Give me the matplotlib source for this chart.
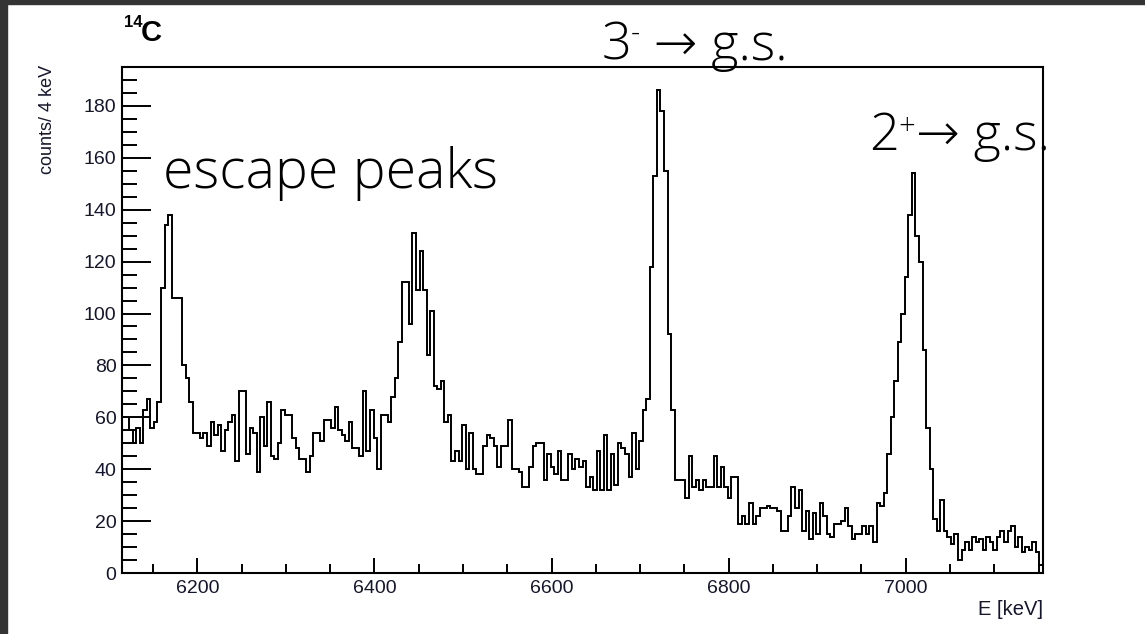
import numpy as np
import matplotlib
matplotlib.use("Agg")
import matplotlib.pyplot as plt
from matplotlib.patches import Rectangle
from matplotlib.ticker import MultipleLocator

# ---- 14C gamma spectrum, 4 keV bins starting at 6115 keV ----
bin_start = 6115
bin_width = 4

counts_low = [60, 60, 55, 50, 56, 50, 63, 67, 56, 58, 66,
              110, 134, 138, 106, 106, 106,
              80, 75, 66, 54, 54, 52, 54, 49, 58, 53, 57, 47, 55,
              58, 61, 43, 70, 70, 46, 56, 54, 39, 60, 49,
              66, 45, 44, 50, 63, 61, 61, 52, 48, 44, 44, 39,
              45, 54, 54, 51, 59, 59, 56, 64,
              55, 53, 51, 58, 48, 48, 45, 70, 47, 63, 52, 40]
counts_escape2 = [61, 61, 58, 68, 75, 89, 112, 112, 96, 131, 109, 124, 109, 84, 101, 72, 71, 74,
                  58, 61, 43, 47, 43, 57, 40, 54, 40, 38, 38, 49, 53, 52]
counts_mid = [49, 41, 49, 49, 59, 40, 40, 39, 33, 33, 41, 49, 50, 50,
              36, 46, 41, 38, 47, 36, 36, 46, 40, 44, 41, 43, 33, 37,
              32, 47, 32, 53, 32, 46, 34, 50, 48, 46, 37, 54, 40, 51, 63, 67]
counts_3minus = [118, 153, 186, 178, 155, 92, 63]
counts_tail = [36, 36, 36, 29, 45, 33, 36, 32, 36, 33, 33, 45, 33, 41, 33, 29, 37, 37,
               19, 22, 19, 27, 19, 22,
               25, 25, 26, 25, 25, 24, 16, 16, 22, 33, 25, 32, 16, 24, 13, 23, 15, 27,
               22, 15, 14, 19, 19, 20, 25, 18, 13, 15, 15, 18, 15, 18]
counts_2plus = [12, 27, 26, 31, 46, 60, 74, 89, 100, 114, 138, 154, 130, 120, 86, 56, 40]
counts_high = [21, 16, 28, 16, 14, 11, 15, 5, 9, 12, 9, 14, 12, 13, 9, 14, 12, 9, 14, 16,
               12, 16, 18, 10, 14, 8, 10, 9, 12, 8, 3]

counts = np.array(counts_low + counts_escape2 + counts_mid + counts_3minus
                  + counts_tail + counts_2plus + counts_high, dtype=float)
edges = bin_start + bin_width * np.arange(len(counts) + 1)

x_ticks = [6200, 6400, 6600, 6800, 7000]
y_ticks = [0, 20, 40, 60, 80, 100, 120, 140, 160, 180]

W, H = 1145, 634
fig = plt.figure(figsize=(W / 100, H / 100), dpi=100)
fig.patch.set_facecolor("white")


def fx(px):
    return px / W


def fy(py):
    return 1 - py / H


# slide frame strips
fig.patches.append(Rectangle((0, fy(4)), 1, 4 / H, transform=fig.transFigure,
                             color="#343434", zorder=0))
fig.patches.append(Rectangle((0, 0), 7 / W, 1, transform=fig.transFigure,
                             color="#343434", zorder=0))

ax = fig.add_axes([fx(122), fy(573), fx(1043) - fx(122), fy(67) - fy(573)])
ax.stairs(counts, edges, color="black", linewidth=1.4)

ax.set_xlim(edges[0], edges[-1])
ax.set_ylim(0, 195)

ax.set_xticks(x_ticks)
ax.set_yticks(y_ticks)
ax.xaxis.set_minor_locator(MultipleLocator(50))
ax.yaxis.set_minor_locator(MultipleLocator(5))

label_color = "#15152e"
sans = ["Liberation Sans", "DejaVu Sans"]
ax.tick_params(axis="y", which="major", direction="in", length=21, width=1.4,
               pad=4, labelcolor=label_color)
ax.tick_params(axis="y", which="minor", direction="in", length=10.5, width=1.4)
ax.tick_params(axis="x", which="major", direction="in", length=10.8, width=1.4,
               pad=5, labelcolor=label_color)
ax.tick_params(axis="x", which="minor", direction="in", length=6.3, width=1.4)
for lab in ax.get_xticklabels() + ax.get_yticklabels():
    lab.set_fontfamily(sans)
    lab.set_fontsize(14)
for sp in ax.spines.values():
    sp.set_linewidth(1.5)

# axis titles
fig.text(fx(1043), fy(615), "E [keV]", ha="right", va="baseline",
         fontsize=14.5, color=label_color, family=sans)
fig.text(fx(47), fy(65), "counts/ 4 keV", rotation=90, ha="center", va="top",
         fontsize=13, color=label_color, family=sans)

# histogram title
fig.text(fx(124), fy(27), "14", ha="left", va="baseline", fontsize=12,
         fontweight="bold", family=sans)
fig.text(fx(141), fy(41), "C", ha="left", va="baseline", fontsize=21,
         fontweight="bold", family=sans)

# peak annotations (pieces laid out left to right, with raised superscripts)
ann_family = ["Open Sans", "DejaVu Sans"]
ann_weight = "light"
renderer = fig.canvas.get_renderer()


def piece_width(s, size):
    t = fig.text(0, 0, s, fontsize=size, family=ann_family, fontweight=ann_weight)
    w = t.get_window_extent(renderer).width
    t.remove()
    return w


def fit_size(pieces, target_px):
    total = sum(piece_width(s, size) for s, size, _ in pieces)
    return target_px / total


def draw_pieces(pieces, x_px, base_px, align="left", scale=1.0):
    pieces = [(s, size * scale, rise * scale) for s, size, rise in pieces]
    widths = [piece_width(s, size) for s, size, _ in pieces]
    x = x_px - sum(widths) if align == "right" else x_px
    for (s, size, rise), w in zip(pieces, widths):
        fig.text(fx(x), fy(base_px - rise), s, fontsize=size, family=ann_family,
                 fontweight=ann_weight, ha="left", va="baseline", color="black")
        x += w


escape_text = [("escape peaks", 40, 0)]
three_text = [("3", 36, 0), ("-", 20, 17), (" \u2192 g.s.", 36, 0)]
two_text = [("2", 36, 0), ("+", 20, 14), ("\u2192 g.s.", 36, 0)]

k_escape = fit_size(escape_text, 334)
k_two = fit_size(two_text, 181)

draw_pieces(escape_text, 163, 188, scale=k_escape)
draw_pieces(three_text, 788, 60, align="right", scale=k_two)
draw_pieces(two_text, 869, 150, scale=k_two)

fig.savefig("out.png", dpi=100, facecolor="white")
